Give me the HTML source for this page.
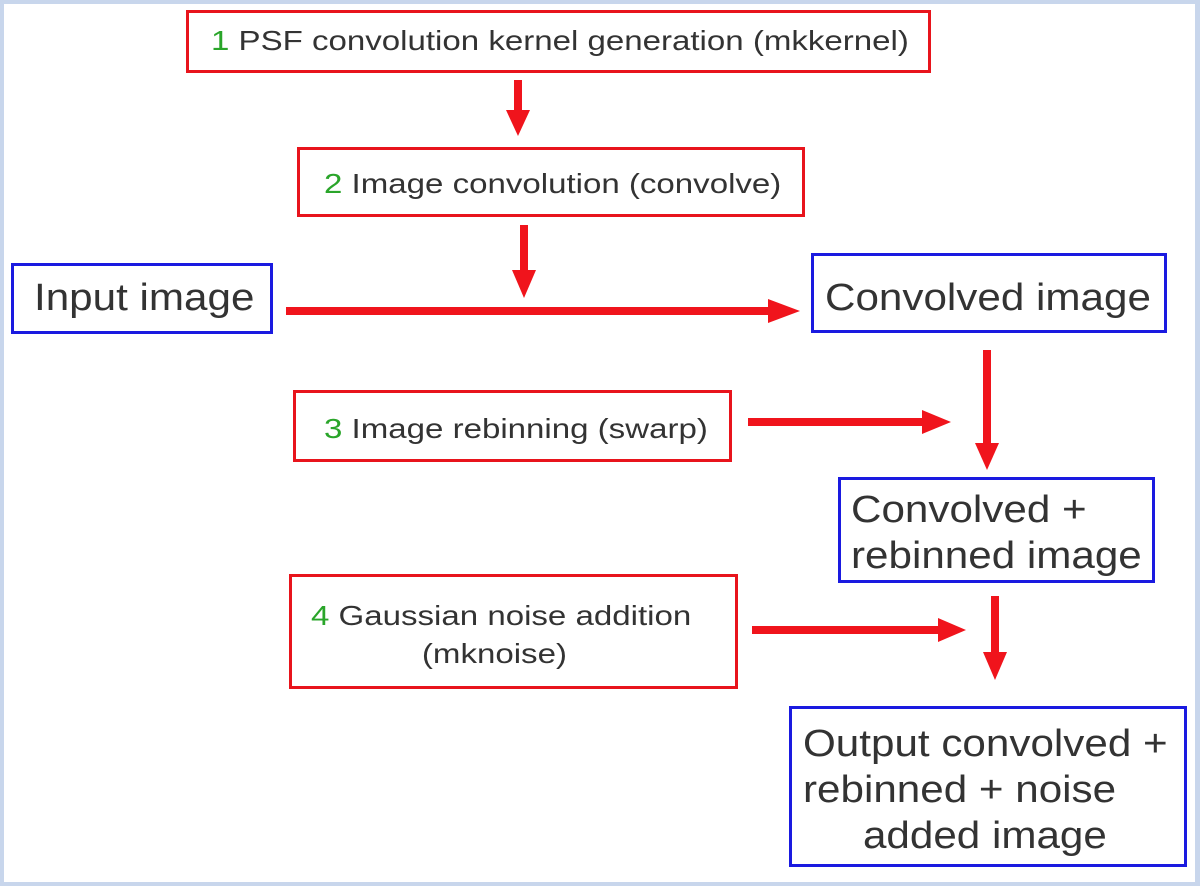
<!DOCTYPE html>
<html><head><style>
body{margin:0;width:1200px;height:886px;background:#c8d6ec;position:relative;overflow:hidden;font-family:"Liberation Sans",sans-serif;color:#333}
.p{position:absolute;left:4px;top:4px;width:1191px;height:878px;background:#fff}
.b{position:absolute;box-sizing:border-box;border:3px solid #e8141c;white-space:nowrap}
.u{border-color:#1a1ae0;font-size:38px;line-height:46px}
.r{font-size:28px}
.g{color:#2aa52a}
.s{display:inline-block;transform-origin:0 0;transform:scaleX(1.18)}
.t{display:inline-block;transform-origin:0 0;transform:scaleX(1.11)}
svg{position:absolute;left:0;top:0}
</style></head><body>
<div class="p"></div>
<div class="b r" style="left:186px;top:10px;width:745px;height:63px;padding:12px 0 0 22px"><span class="s"><span class="g">1</span> PSF convolution kernel generation (mkkernel)</span></div>
<div class="b r" style="left:297px;top:147px;width:508px;height:70px;padding:18px 0 0 24px"><span class="s"><span class="g">2</span> Image convolution (convolve)</span></div>
<div class="b u" style="left:11px;top:263px;width:262px;height:71px;padding:9px 0 0 20px"><span class="t">Input image</span></div>
<div class="b u" style="left:811px;top:253px;width:356px;height:80px;padding:19px 0 0 11px"><span class="t">Convolved image</span></div>
<div class="b r" style="left:293px;top:390px;width:439px;height:72px;padding:20px 0 0 28px"><span class="s"><span class="g">3</span> Image rebinning (swarp)</span></div>
<div class="b u" style="left:838px;top:477px;width:317px;height:106px;padding:7px 0 0 10px"><span class="t">Convolved +<br>rebinned image</span></div>
<div class="b r" style="left:289px;top:574px;width:449px;height:115px;padding:20px 0 0 19px;line-height:38px"><span class="s"><span class="g">4</span> Gaussian noise addition<br><span style="padding-left:94px">(mknoise)</span></span></div>
<div class="b u" style="left:789px;top:706px;width:398px;height:161px;padding:12px 0 0 11px"><span class="t">Output convolved +<br>rebinned + noise<br><span style="padding-left:54px">added image</span></span></div>
<svg width="1200" height="886" fill="#f0141c" stroke="#f0141c">
<g stroke-width="8">
<line x1="518" y1="80" x2="518" y2="112"/>
<line x1="524" y1="225" x2="524" y2="272"/>
<line x1="286" y1="311" x2="770" y2="311"/>
<line x1="987" y1="350" x2="987" y2="445"/>
<line x1="748" y1="422" x2="924" y2="422"/>
<line x1="995" y1="596" x2="995" y2="654"/>
<line x1="752" y1="630" x2="940" y2="630"/>
</g>
<g stroke="none">
<polygon points="506,110 530,110 518,136"/>
<polygon points="512,270 536,270 524,298"/>
<polygon points="768,299 768,323 800,311"/>
<polygon points="975,443 999,443 987,470"/>
<polygon points="922,410 922,434 951,422"/>
<polygon points="983,652 1007,652 995,680"/>
<polygon points="938,618 938,642 966,630"/>
</g>
</svg>
</body></html>
